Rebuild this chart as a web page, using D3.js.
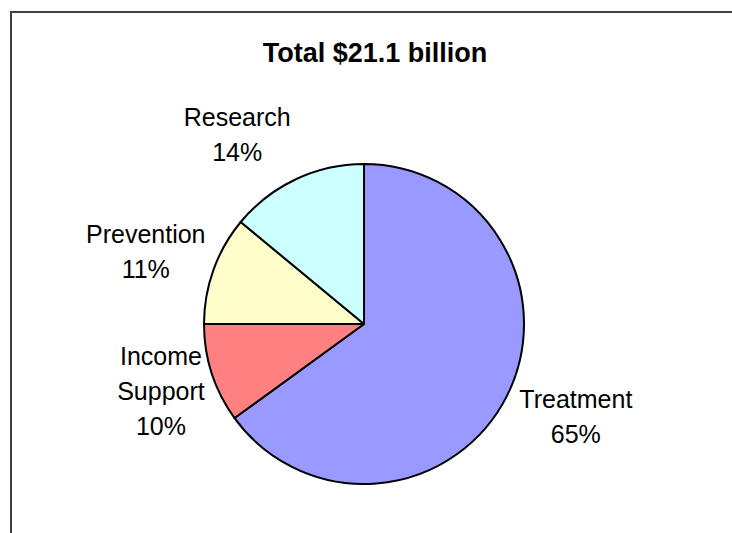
<!DOCTYPE html>
<html>
<head>
<meta charset="utf-8">
<script src="https://cdn.jsdelivr.net/npm/d3@7"></script>
<style>
  html, body { margin: 0; padding: 0; background: #fff; }
  svg { display: block; }
  text { font-family: "Liberation Sans", Arial, sans-serif; fill: #000; }
</style>
</head>
<body>
<svg id="chart" width="732" height="533"></svg>
<script>
// Spending breakdown, share of total (percent)
const categories = ["Treatment", "Income Support", "Prevention", "Research"];
const labelLines = [["Treatment"], ["Income", "Support"], ["Prevention"], ["Research"]];
const values = [65, 10, 11, 14];
const colors = ["#9999FF", "#FF8080", "#FFFFCC", "#CCFFFF"];
const title = "Total $21.1 billion";

const width = 732, height = 533;
const cx = 364, cy = 324, radius = 160;

const svg = d3.select("#chart");

// outer frame of the chart area (right and bottom edges run off the page)
svg.append("rect")
  .attr("x", 11).attr("y", 12)
  .attr("width", 760).attr("height", 560)
  .attr("fill", "none")
  .attr("stroke", "#404040")
  .attr("stroke-width", 2);

svg.append("text")
  .attr("x", 375).attr("y", 62)
  .attr("text-anchor", "middle")
  .attr("font-size", 27)
  .attr("font-weight", "bold")
  .text(title);

const pie = d3.pie().sort(null).value(d => d)
  .startAngle(0).endAngle(2 * Math.PI);
const arcs = pie(values);
const arc = d3.arc().innerRadius(0).outerRadius(radius);

const g = svg.append("g").attr("transform", `translate(${cx},${cy})`);

g.selectAll("path.slice")
  .data(arcs)
  .join("path")
  .attr("class", "slice")
  .attr("d", arc)
  .attr("fill", (d, i) => colors[i])
  .attr("stroke", "#000")
  .attr("stroke-width", 2)
  .attr("stroke-linejoin", "round");

// labels sit outside the pie near each slice's mid-angle
const labelRadius = [231, 214, 230, 228];
const labelAngleShift = [-3.5, -0.4, -1.4, -8.6]; // degrees
const fontSize = 25;
const lineH = 35;
const capHalf = fontSize * 0.716 / 2;
arcs.forEach((a, i) => {
  const mid = (a.startAngle + a.endAngle) / 2 + labelAngleShift[i] * Math.PI / 180;
  const r = labelRadius[i];
  const x = r * Math.sin(mid);
  const y = -r * Math.cos(mid);
  const lines = labelLines[i].concat([values[i] + "%"]);
  const first = y - (lines.length - 1) * lineH / 2 + capHalf;
  const t = g.append("text")
    .attr("text-anchor", "middle")
    .attr("font-size", fontSize);
  lines.forEach((s, k) => {
    t.append("tspan")
      .attr("x", x)
      .attr("y", first + k * lineH)
      .text(s);
  });
});
</script>
</body>
</html>
